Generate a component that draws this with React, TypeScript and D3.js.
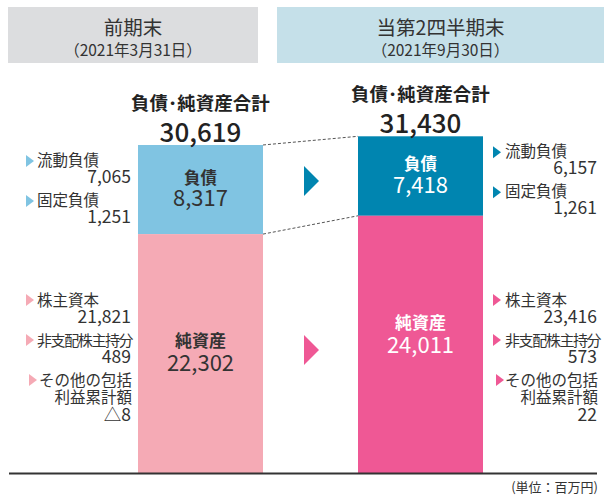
import { scaleLinear, scalePoint, format } from "d3";

// periods and headers
const periods = ["前期末", "当第2四半期末"];
const periodDates = ["（2021年3月31日）", "（2021年9月30日）"];

// balance sheet values (百万円)
const totals = [30619, 31430];
const liabilities = [8317, 7418];
const netAssets = [22302, 24011];

const liabilityNames = ["流動負債", "固定負債"];
const currentLiabilities = [7065, 6157];
const fixedLiabilities = [1251, 1261];

const equityNames = ["株主資本", "非支配株主持分", "その他の包括", "利益累計額"];
const shareholdersEquity = [21821, 23416];
const nonControlling = [489, 573];
const otherComprehensive = [-8, 22];

const W = 604;
const H = 495;
const FONT = "'Noto Sans CJK JP', 'Noto Sans', sans-serif";
const BASE = 473;
const BAR_W = 125;

const liabColors = ["#80c4e2", "#0085b0"];
const equityColors = ["#f5aab5", "#ef5895"];
const barText = ["#333", "#fff"];
const headerColors = ["#dcdddf", "#c5e0e9"];

const fmt = format(",");
const fmtSigned = (v: number) => (v < 0 ? "△" + fmt(-v) : fmt(v));

export default function App() {
  const y = scaleLinear().domain([0, totals[1]]).range([BASE, 136.3]);
  const x = scalePoint<string>().domain(periods).range([200.5, 420.5]);
  const headerX = [
    [8, 258],
    [277, 604],
  ];

  const liabItems = [currentLiabilities, fixedLiabilities];

  // side label geometry: left side for first period, right side for second
  const side = [
    { tri: 26, text: 37, right: 131 },
    { tri: 493, text: 505, right: 597 },
  ];

  const tri = (cx: number, cy: number, h: number, w: number) =>
    `M${cx},${cy - h / 2}L${cx + w},${cy}L${cx},${cy + h / 2}Z`;

  return (
    <svg width={W} height={H} style={{ position: "absolute", left: 0, top: 0 }} fontFamily={FONT}>
      {/* headers */}
      {periods.map((p, i) => {
        const [x0, x1] = headerX[i];
        const cx = (x0 + x1) / 2;
        return (
          <g key={p}>
            <rect x={x0} y={7} width={x1 - x0} height={56} fill={headerColors[i]} />
            <text x={cx} y={35} textAnchor="middle" fontSize={19.5} fill="#333">{p}</text>
            <text x={cx} y={56} textAnchor="middle" fontSize={15.5} fill="#333">{periodDates[i]}</text>
          </g>
        );
      })}

      {/* connecting dashed lines */}
      <line x1={x(periods[0])! + BAR_W / 2} y1={y(totals[0])} x2={x(periods[1])! - BAR_W / 2} y2={y(totals[1])}
        stroke="#555" strokeWidth={1} strokeDasharray="3,2" />
      <line x1={x(periods[0])! + BAR_W / 2} y1={y(netAssets[0])} x2={x(periods[1])! - BAR_W / 2} y2={y(netAssets[1])}
        stroke="#555" strokeWidth={1} strokeDasharray="3,2" />

      {/* arrows */}
      <path d={tri(304, 181, 30, 15)} fill="#0085b0" />
      <path d={tri(304, 350, 30, 15)} fill="#ef5895" />

      {periods.map((p, i) => {
        const cx = x(p)!;
        const top = y(totals[i]);
        const mid = y(netAssets[i]);
        const s = side[i];
        const liabMid = (top + mid) / 2;
        return (
          <g key={"bar" + i}>
            <rect x={cx - BAR_W / 2} y={top} width={BAR_W} height={mid - top} fill={liabColors[i]} />
            <rect x={cx - BAR_W / 2} y={mid} width={BAR_W} height={BASE - mid} fill={equityColors[i]} />

            <text x={cx} y={top - 35} textAnchor="middle" fontSize={18.5} fontWeight={700} fill="#222">負債･純資産合計</text>
            <text x={cx} y={top - 3} textAnchor="middle" fontSize={26} fontWeight={500} fill="#222">{fmt(totals[i])}</text>

            <text x={cx} y={liabMid - 6} textAnchor="middle" fontSize={16.5} fontWeight={700} fill={barText[i]}>負債</text>
            <text x={cx} y={liabMid + 16.5} textAnchor="middle" fontSize={22} fill={barText[i]}>{fmt(liabilities[i])}</text>

            <text x={cx} y={mid + 113} textAnchor="middle" fontSize={17} fontWeight={700} fill={barText[i]}>純資産</text>
            <text x={cx} y={mid + 137} textAnchor="middle" fontSize={22} fill={barText[i]}>{fmt(netAssets[i])}</text>

            {/* liability breakdown */}
            {liabilityNames.map((n, k) => (
              <g key={n}>
                <path d={tri(s.tri, top + 16 + k * 40, 12, 8)} fill={liabColors[i]} />
                <text x={s.text} y={top + 21 + k * 40} fontSize={15.5} fill="#333">{n}</text>
                <text x={s.right} y={top + 38 + k * 40} textAnchor="end" fontSize={17.5} fill="#333">{fmt(liabItems[k][i])}</text>
              </g>
            ))}

            {/* equity breakdown */}
            <path d={tri(s.tri, 300, 12, 8)} fill={equityColors[i]} />
            <text x={s.text} y={306} fontSize={15.5} fill="#333">{equityNames[0]}</text>
            <text x={s.right} y={323} textAnchor="end" fontSize={17.5} fill="#333">{fmt(shareholdersEquity[i])}</text>

            <path d={tri(s.tri, 340, 12, 8)} fill={equityColors[i]} />
            <text x={s.text} y={346} fontSize={15} letterSpacing={-1.4} fill="#333">{equityNames[1]}</text>
            <text x={s.right} y={363} textAnchor="end" fontSize={17.5} fill="#333">{fmt(nonControlling[i])}</text>

            <path d={tri(s.tri + 3, 380, 12, 8)} fill={equityColors[i]} />
            <text x={s.right + 1} y={386} textAnchor="end" fontSize={15.5} fill="#333">{equityNames[2]}</text>
            <text x={s.right + 1} y={403} textAnchor="end" fontSize={15.5} fill="#333">{equityNames[3]}</text>
            <text x={s.right} y={421} textAnchor="end" fontSize={17.5} fill="#333">{fmtSigned(otherComprehensive[i])}</text>
          </g>
        );
      })}

      {/* baseline */}
      <line x1={9} x2={597} y1={BASE + 0.5} y2={BASE + 0.5} stroke="#333" strokeWidth={2} />
      <text x={598} y={492} textAnchor="end" fontSize={13} fill="#333">(単位：百万円)</text>
    </svg>
  );
}
